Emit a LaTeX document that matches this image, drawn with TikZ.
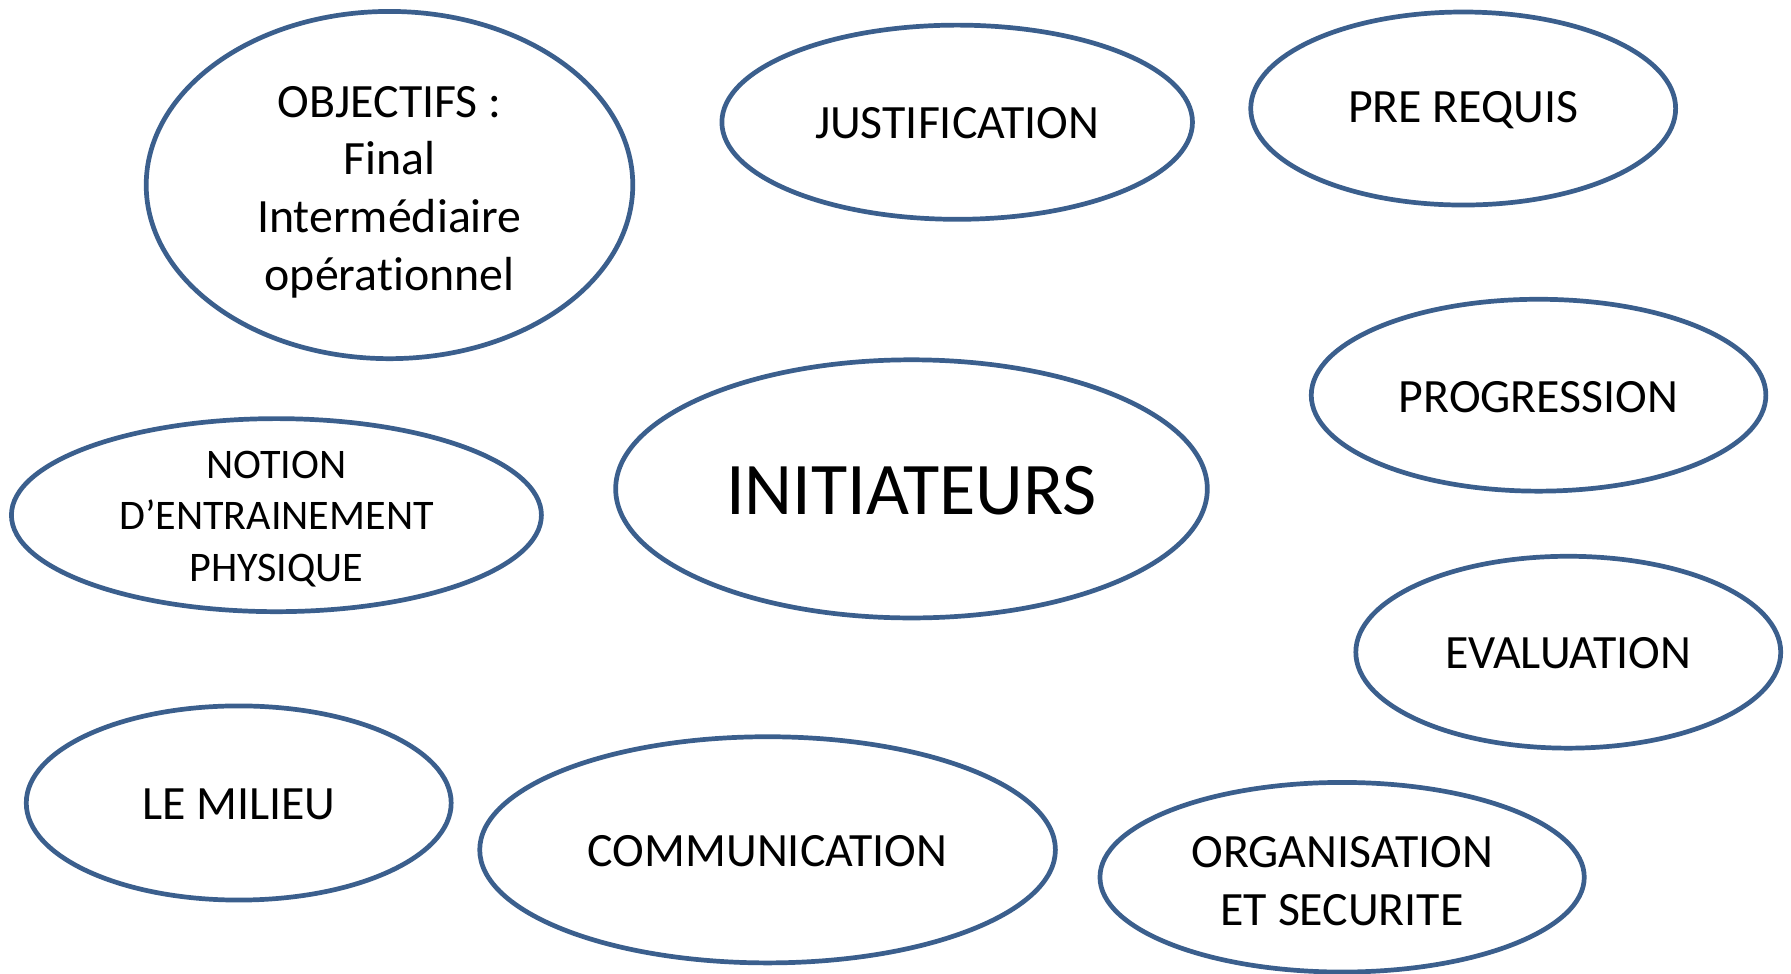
\documentclass[tikz,border=0pt]{standalone}
\usepackage{fontspec}
\setmainfont[Ligatures={NoCommon,NoRare}]{Carlito}
\usetikzlibrary{shapes.geometric}
\definecolor{edgeblue}{HTML}{3B5F8D}
\tikzset{
  bubble/.style={ellipse, draw=edgeblue, line width=3.3pt, fill=white, inner sep=0pt},
  txt/.style={align=center, inner sep=0pt, yshift=-1pt, font=\fontsize{33.5}{40.5}\selectfont},
  multi/.style={yshift=-1.5pt},
}
\begin{document}
\begin{tikzpicture}[x=0.8pt,y=-0.8pt]
\useasboundingbox (0,0) rectangle (1568,852);
\node[bubble, minimum width=426*0.8pt, minimum height=304*0.8pt] (obj) at (341,162) {};
\node[txt, yshift=-4pt] (objt) at (obj.center) {OBJECTIFS :\\Final\\Intermédiaire\\opérationnel};
\node[bubble, minimum width=412*0.8pt, minimum height=170*0.8pt] (just) at (838,107) {};
\node[txt] (justt) at (just.center) {JUSTIFICATION};
\node[bubble, minimum width=372*0.8pt, minimum height=169*0.8pt] (pre) at (1281,95) {};
\node[txt] (pret) at (pre.center) {PRE REQUIS};
\node[bubble, minimum width=398*0.8pt, minimum height=168*0.8pt] (prog) at (1347,346) {};
\node[txt] (progt) at (prog.center) {PROGRESSION};
\node[bubble, minimum width=518*0.8pt, minimum height=226*0.8pt] (init) at (798,428) {};
\node[txt, font=\fontsize{52}{60}\selectfont] (initt) at (init.center) {INITIATEURS};
\node[bubble, minimum width=464*0.8pt, minimum height=169*0.8pt] (notion) at (242,451) {};
\node[txt, multi, font=\fontsize{29.5}{36}\selectfont] (notiont) at (notion.center) {NOTION\\D’ENTRAINEMENT\\PHYSIQUE};
\node[bubble, minimum width=372*0.8pt, minimum height=168*0.8pt] (eval) at (1373,571) {};
\node[txt] (evalt) at (eval.center) {EVALUATION};
\node[bubble, minimum width=372*0.8pt, minimum height=170*0.8pt] (milieu) at (209,703) {};
\node[txt] (milieut) at (milieu.center) {LE MILIEU};
\node[bubble, minimum width=504*0.8pt, minimum height=198*0.8pt] (comm) at (672,744) {};
\node[txt] (commt) at (comm.center) {COMMUNICATION};
\node[bubble, minimum width=424*0.8pt, minimum height=166*0.8pt] (org) at (1175,768) {};
\node[txt, multi] (orgt) at (org.center) {ORGANISATION\\ET SECURITE};
\end{tikzpicture}
\end{document}
